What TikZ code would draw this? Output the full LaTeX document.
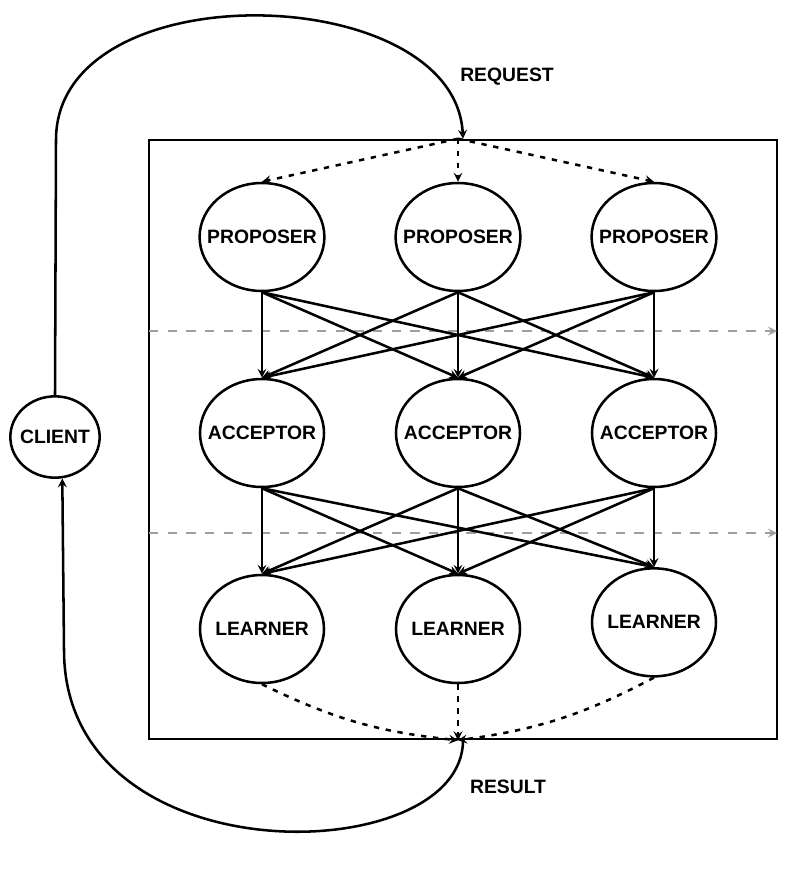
\documentclass[tikz,border=0pt]{standalone}
\usepackage{fontspec}
\setmainfont{Liberation Sans}
\usepackage{tikz}
\usetikzlibrary{arrows.meta, positioning, shapes.geometric}

\begin{document}
\begin{tikzpicture}[x=0.75pt,y=-0.75pt,->,>=stealth,line width=1.9pt,node distance=147pt,
  role node/.style={ellipse,draw,minimum width=93pt,minimum height=81pt,inner xsep=-8pt,inner ysep=0pt,font=\fontsize{14.5}{16}\selectfont\bfseries},
  tag/.style={font=\fontsize{14.5}{16}\selectfont\bfseries},
  flow/.style={dash pattern=on 4pt off 5pt},
  divider/.style={gray!75,dash pattern=on 7pt off 7pt}]

  \useasboundingbox (0,0) rectangle (804,876);

  % system boundary
  \node[draw,-,minimum width=471pt,minimum height=449.25pt,inner sep=0pt] (box) at (463,439.5) {};

  \node[role node] (p1) at (262,237) {PROPOSER};
  \node[role node] (p2) [right of=p1] {PROPOSER};
  \node[role node] (p3) [right of=p2] {PROPOSER};
  \node[role node] (a1) [below of=p1] {ACCEPTOR};
  \node[role node] (a2) [below of=p2] {ACCEPTOR};
  \node[role node] (a3) [below of=p3] {ACCEPTOR};
  \node[role node] (l1) [below of=a1] {LEARNER};
  \node[role node] (l2) [below of=a2] {LEARNER};
  \node[role node] (l3) [below of=a3, yshift=5pt] {LEARNER};
  \node[role node,minimum width=67pt,minimum height=61pt] (client) at (55,437) {CLIENT};

  \node[tag] (request) at (507,77) {REQUEST};
  \node[tag] (result) at (508,787) {RESULT};

  \coordinate (fanout) at (p2 |- box.north);
  \coordinate (fanin) at (p2 |- box.south);
  \coordinate (cut1w) at (149,331);
  \coordinate (cut1e) at (777,331);
  \coordinate (cut2w) at (149,533);
  \coordinate (cut2e) at (777,533);

  \draw[divider] (cut1w) -- (cut1e);
  \draw[divider] (cut2w) -- (cut2e);

  \path (p1.south) edge (a1.north) edge (a2.north) edge (a3.north)
        (p2.south) edge (a1.north) edge (a2.north) edge (a3.north)
        (p3.south) edge (a1.north) edge (a2.north) edge (a3.north);
  \path (a1.south) edge (l1.north) edge (l2.north) edge (l3.north)
        (a2.south) edge (l1.north) edge (l2.north) edge (l3.north)
        (a3.south) edge (l1.north) edge (l2.north) edge (l3.north);

  \path[flow] (fanout) edge (p1.north) edge (p2.north) edge (p3.north);
  \path[flow] (l1.south) edge[bend right=10] (fanin)
        (l2.south) edge (fanin)
        (l3.south) edge[bend left=10] (fanin);

  \draw (client.north) -- (56,140) .. controls (56,-30) and (455,-20) .. (box.north);
  \draw (box.south) .. controls (463,870) and (64,880) .. (64,650) -- (client.-80);
\end{tikzpicture}
\end{document}
